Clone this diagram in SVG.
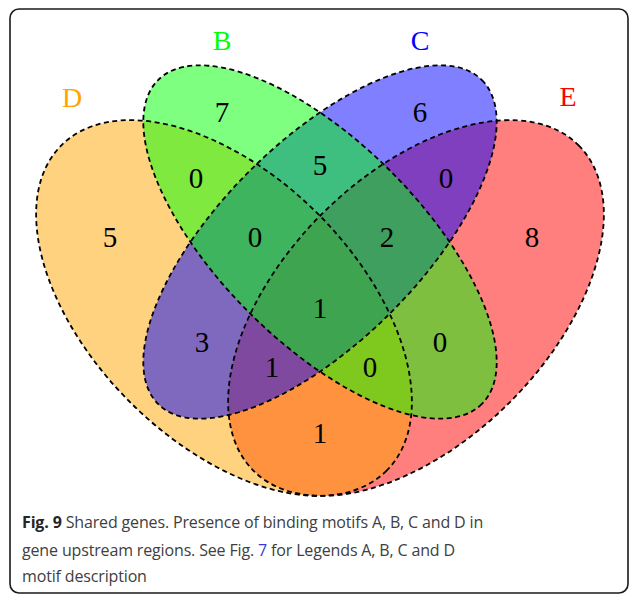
<svg xmlns="http://www.w3.org/2000/svg" width="630" height="596" viewBox="0 0 630 596">
  <style>
    .fill { fill-opacity: 0.5; stroke: none; }
    .outline { fill: none; stroke: #000; stroke-width: 1.8; stroke-dasharray: 5 3.5; }
    .num { font-family: "Liberation Serif", "Times New Roman", serif; font-size: 29px; fill: #000; text-anchor: middle; }
    .lab { font-family: "Liberation Serif", "Times New Roman", serif; font-size: 28px; text-anchor: middle; }
    .cap { font-family: "Open Sans", "Noto Sans", sans-serif; font-size: 16px; letter-spacing: -0.15px; fill: #404040; }
  </style>
  <defs>
    <ellipse id="shapeE" cx="416" cy="308" rx="230" ry="133" transform="rotate(-45 416 308)"/>
    <ellipse id="shapeD" cx="224" cy="308" rx="230" ry="133" transform="rotate(45 224 308)"/>
    <ellipse id="shapeC" cx="320" cy="242" rx="229" ry="100" transform="rotate(-45 320 242)"/>
    <ellipse id="shapeB" cx="320" cy="242" rx="229" ry="100" transform="rotate(45 320 242)"/>
  </defs>

  <rect x="10" y="9" width="618" height="584" rx="9" ry="9" fill="#fff" stroke="#1a1a1a" stroke-width="1.6"/>

  <g id="setE">
    <use href="#shapeE" class="fill" fill="#FF0000"/>
    <text class="lab" x="568" y="106" fill="#FF0000">E</text>
  </g>
  <g id="setD">
    <use href="#shapeD" class="fill" fill="#FFA500"/>
    <text class="lab" x="72" y="107" fill="#FFA500">D</text>
  </g>
  <g id="setC">
    <use href="#shapeC" class="fill" fill="#0000FF"/>
    <text class="lab" x="420" y="50" fill="#0000FF">C</text>
  </g>
  <g id="setB">
    <use href="#shapeB" class="fill" fill="#00FF00"/>
    <text class="lab" x="222" y="50" fill="#00FF00">B</text>
  </g>

  <g id="outlines">
    <use href="#shapeE" class="outline"/>
    <use href="#shapeD" class="outline"/>
    <use href="#shapeC" class="outline"/>
    <use href="#shapeB" class="outline"/>
  </g>

  <g id="counts">
    <text class="num" x="110" y="247">5</text>
    <text class="num" x="222" y="122">7</text>
    <text class="num" x="420" y="122">6</text>
    <text class="num" x="532" y="247">8</text>
    <text class="num" x="196" y="188">0</text>
    <text class="num" x="320" y="175">5</text>
    <text class="num" x="446" y="188">0</text>
    <text class="num" x="255" y="247">0</text>
    <text class="num" x="387" y="247">2</text>
    <text class="num" x="320" y="318">1</text>
    <text class="num" x="202" y="352">3</text>
    <text class="num" x="440" y="352">0</text>
    <text class="num" x="272" y="377">1</text>
    <text class="num" x="370" y="377">0</text>
    <text class="num" x="320" y="443">1</text>
  </g>

  <g id="caption">
    <text class="cap" x="22" y="528"><tspan font-weight="bold" fill="#262626">Fig. 9</tspan> Shared genes. Presence of binding motifs A, B, C and D in</text>
    <text class="cap" x="22" y="556">gene upstream regions. See Fig. <tspan fill="#3a3ad6">7</tspan> for Legends A, B, C and D</text>
    <text class="cap" x="22" y="582">motif description</text>
  </g>
</svg>
